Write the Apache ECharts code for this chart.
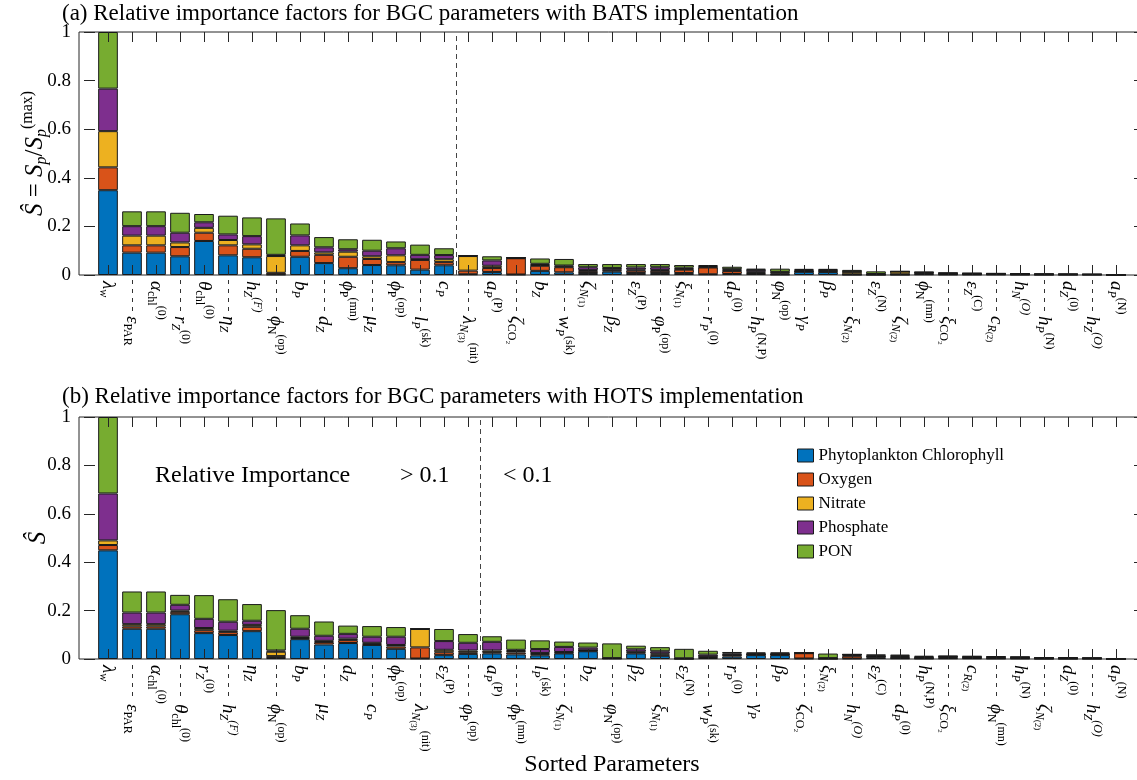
<!DOCTYPE html>
<html><head><meta charset="utf-8">
<script src="https://cdn.jsdelivr.net/npm/echarts@6/dist/echarts.min.js"></script>
<style>html,body{margin:0;padding:0;background:#fff}#c{width:1137px;height:780px}</style>
</head><body><div id="c"></div>
<script>
// ---------- data ----------
const seriesNames = ['Phytoplankton Chlorophyll', 'Oxygen', 'Nitrate', 'Phosphate', 'PON'];
const colors = ['#0072BD', '#D95319', '#EDB120', '#7E2F8E', '#77AC30'];
const yTicks = [0, 0.2, 0.4, 0.6, 0.8, 1];
const threshold = 0.1;

const labelsA = [
'{m|λ}{si|w}','{m|ε}{s|PAR}','{m|α}{s|chl}{p|(0)}','{m|r}{si|Z}{p|(0)}','{m|θ}{s|chl}{p|(0)}',
'{m|η}{si|Z}','{m|h}{si|Z}{pi|(F)}','{m|ϕ}{s|N}{p|(op)}','{m|b}{si|P}','{m|d}{si|Z}',
'{m|ϕ}{s|P}{p|(mn)}','{m|μ}{si|Z}','{m|ϕ}{s|P}{p|(op)}','{m|l}{si|P}{p|(sk)}','{m|c}{si|P}',
'{m|λ}{si|N}{ss|(3)}{p|(nit)}','{m|a}{si|P}{p|(P)}','{m|ζ}{s|CO₂}','{m|b}{si|Z}','{m|w}{si|P}{p|(sk)}',
'{m|ζ}{si|N}{ss|(1)}','{m|β}{si|Z}','{m|ε}{si|Z}{p|(P)}','{m|φ}{s|P}{p|(op)}','{m|ξ}{si|N}{ss|(1)}',
'{m|r}{si|P}{p|(0)}','{m|d}{si|P}{p|(0)}','{m|h}{si|P}{p|(N,P)}','{m|φ}{s|N}{p|(op)}','{m|γ}{si|P}',
'{m|β}{si|P}','{m|ξ}{si|N}{ss|(2)}','{m|ε}{si|Z}{p|(N)}','{m|ζ}{si|N}{ss|(2)}','{m|ϕ}{s|N}{p|(mn)}',
'{m|ξ}{s|CO₂}','{m|ε}{si|Z}{p|(C)}','{m|c}{si|R}{ss|(2)}','{m|h}{si|N}{pi|(O)}','{m|h}{si|P}{p|(N)}',
'{m|d}{si|Z}{p|(0)}','{m|h}{si|Z}{pi|(O)}','{m|a}{si|P}{p|(N)}'
];
const chlA = [.349,.092,.092,.077,.140,.081,.073,.002,.075,.049,.028,.041,.040,.022,.040,.003,.012,.002,.017,.011,.008,.014,.008,.008,.008,.003,.004,.004,.002,.013,.012,.001,.001,.001,.003,.002,.002,.002,.001,.001,.001,.001,.0003];
const oxyA = [.094,.030,.030,.038,.034,.041,.035,.007,.024,.034,.047,.025,.013,.040,.013,.015,.017,.067,.021,.021,.008,.005,.010,.009,.014,.028,.012,.005,.004,.002,.003,.002,.001,.002,.003,.002,.002,.001,.002,.001,.001,.001,.0003];
const nitA = [.149,.040,.040,.019,.020,.022,.018,.069,.023,.010,.021,.011,.028,.003,.012,.060,.009,.001,.003,.003,.004,.003,.004,.004,.003,.002,.003,.004,.005,.002,.003,.010,.001,.011,.003,.002,.001,.001,.001,.001,.001,.0005,.0002];
const phoA = [.175,.039,.039,.040,.023,.023,.034,.005,.041,.021,.010,.023,.029,.018,.017,.001,.022,.001,.005,.004,.012,.007,.009,.011,.005,.004,.005,.008,.002,.004,.003,.001,.001,.0005,.002,.002,.002,.002,.001,.001,.0005,.0005,.0001];
const ponA = [.233,.061,.061,.082,.034,.077,.077,.150,.049,.042,.041,.045,.028,.042,.028,.001,.017,.001,.022,.027,.013,.016,.014,.013,.011,.004,.010,.005,.013,.004,.004,.007,.011,.001,.002,.001,.001,.001,.001,.001,.0005,.0003,.0001];

const labelsB = [
'{m|λ}{si|w}','{m|ε}{s|PAR}','{m|α}{s|chl}{p|(0)}','{m|θ}{s|chl}{p|(0)}','{m|r}{si|Z}{p|(0)}',
'{m|h}{si|Z}{pi|(F)}','{m|η}{si|Z}','{m|ϕ}{s|N}{p|(op)}','{m|b}{si|P}','{m|μ}{si|Z}',
'{m|d}{si|Z}','{m|c}{si|P}','{m|ϕ}{s|P}{p|(op)}','{m|λ}{si|N}{ss|(3)}{p|(nit)}','{m|ε}{si|Z}{p|(P)}',
'{m|φ}{s|P}{p|(op)}','{m|a}{si|P}{p|(P)}','{m|ϕ}{s|P}{p|(mn)}','{m|l}{si|P}{p|(sk)}','{m|ζ}{si|N}{ss|(1)}',
'{m|b}{si|Z}','{m|φ}{s|N}{p|(op)}','{m|β}{si|Z}','{m|ξ}{si|N}{ss|(1)}','{m|ε}{si|Z}{p|(N)}',
'{m|w}{si|P}{p|(sk)}','{m|r}{si|P}{p|(0)}','{m|γ}{si|P}','{m|β}{si|P}','{m|ζ}{s|CO₂}',
'{m|ξ}{si|N}{ss|(2)}','{m|h}{si|N}{pi|(O)}','{m|ε}{si|Z}{p|(C)}','{m|d}{si|P}{p|(0)}','{m|h}{si|P}{p|(N,P)}',
'{m|ξ}{s|CO₂}','{m|c}{si|R}{ss|(2)}','{m|ϕ}{s|N}{p|(mn)}','{m|h}{si|P}{p|(N)}','{m|ζ}{si|N}{ss|(2)}',
'{m|d}{si|Z}{p|(0)}','{m|h}{si|Z}{pi|(O)}','{m|a}{si|P}{p|(N)}'
];
const chlB = [.449,.125,.125,.185,.107,.099,.115,.004,.082,.060,.066,.058,.042,.002,.016,.021,.023,.019,.015,.023,.032,.002,.023,.013,.001,.004,.010,.016,.016,.002,.001,.002,.006,.003,.002,.003,.003,.002,.002,.001,.001,.001,.0003];
const oxyB = [.022,.010,.010,.010,.012,.012,.018,.008,.005,.010,.012,.005,.010,.046,.012,.007,.005,.008,.005,.003,.002,.0005,.004,.006,.0005,.004,.006,.002,.002,.022,.001,.011,.003,.003,.002,.003,.002,.002,.002,.001,.001,.001,.0002];
const nitB = [.019,.009,.009,.005,.009,.006,.008,.018,.005,.005,.006,.004,.006,.076,.010,.007,.007,.006,.005,.003,.002,.0005,.003,.004,.0005,.002,.002,.002,.002,.0005,.001,.004,.002,.003,.002,.003,.002,.002,.002,.002,.001,.001,.0002];
const phoB = [.194,.048,.048,.024,.038,.037,.017,.005,.033,.021,.020,.025,.034,.0005,.036,.032,.036,.005,.016,.021,.011,.0005,.010,.009,.001,.008,.005,.003,.003,.0005,.0005,.001,.004,.004,.003,.002,.003,.003,.002,.001,.002,.001,.0002];
const ponB = [.316,.087,.087,.041,.098,.093,.069,.167,.056,.059,.034,.044,.040,.0005,.050,.036,.023,.042,.036,.022,.021,.061,.015,.017,.039,.016,.006,.004,.004,.001,.019,.002,.003,.005,.004,.002,.002,.002,.001,.001,.001,.001,.0001];

// ---------- layout ----------
const F = 'Liberation Serif, DejaVu Serif, serif';
const BAND = 24;                    // px per category
const OUT_LEFT = 79, IN_LEFT = 96, N = labelsA.length;
const IN_W = BAND * N;
const OUT_W = 1145 - OUT_LEFT;
const vMin = 1 - (IN_LEFT + BAND / 2 - OUT_LEFT) / BAND;
const vMax = vMin + OUT_W / BAND;

const labelRich = {
  m:  {fontFamily: F, fontStyle: 'italic', fontSize: 19, lineHeight: 22, color: '#000'},
  s:  {fontFamily: F, fontSize: 12, lineHeight: 12, verticalAlign: 'bottom', color: '#000'},
  si: {fontFamily: F, fontStyle: 'italic', fontSize: 12, lineHeight: 12, verticalAlign: 'bottom', color: '#000'},
  ss: {fontFamily: F, fontSize: 9, lineHeight: 17, verticalAlign: 'bottom', color: '#000'},
  p:  {fontFamily: F, fontSize: 12, lineHeight: 12, verticalAlign: 'top', color: '#000'},
  pi: {fontFamily: F, fontStyle: 'italic', fontSize: 12, lineHeight: 12, verticalAlign: 'top', color: '#000'}
};

const grids = [], xAxes = [], yAxes = [], series = [];
function panel(labels, vals, top, height, upMargin, dashOff, dashLen, yName, yNameGap) {
  const gOut = grids.length;
  grids.push({left: OUT_LEFT, top: top, width: OUT_W, height: height, show: true,
              borderColor: '#262626', borderWidth: 1, backgroundColor: 'transparent', outerBoundsMode: 'none', containLabel: false});
  grids.push({left: IN_LEFT, top: top, width: IN_W, height: height, outerBoundsMode: 'none', containLabel: false});
  const gIn = gOut + 1;
  const xOut = xAxes.length;
  xAxes.push({type: 'value', gridIndex: gOut, min: vMin, max: vMax, show: false});
  const yOut = yAxes.length;
  yAxes.push({type: 'value', gridIndex: gOut, position: 'left', min: 0, max: 1, interval: 0.2,
    axisLine: {show: false}, splitLine: {show: false},
    axisTick: {show: true, inside: true, length: 11, lineStyle: {color: '#262626'}},
    axisLabel: {margin: 8, fontFamily: F, fontSize: 19, color: '#000', formatter: v => String(+v.toFixed(1))},
    name: yName, nameLocation: 'middle', nameRotate: 90, nameGap: yNameGap, nameMoveOverlap: false,
    nameTextStyle: {fontFamily: F, color: '#000', rich: {
      i: {fontFamily: F, fontStyle: 'italic', fontSize: 25, lineHeight: 30},
      t: {fontFamily: F, fontSize: 25, lineHeight: 30},
      b: {fontFamily: F, fontStyle: 'italic', fontSize: 16, lineHeight: 16, verticalAlign: 'bottom'},
      a: {fontFamily: F, fontSize: 16, lineHeight: 16, verticalAlign: 'top'}
    }}, z: 10});
  yAxes.push({type: 'value', gridIndex: gOut, position: 'right', min: 0, max: 1, interval: 0.2,
    axisLine: {show: false}, splitLine: {show: false}, axisLabel: {show: false},
    axisTick: {show: true, inside: true, length: 11, lineStyle: {color: '#262626'}}, z: 10});
  const xIn = xAxes.length;
  xAxes.push({type: 'category', gridIndex: gIn, position: 'bottom', data: labels,
    axisLine: {show: false}, splitLine: {show: false},
    axisTick: {show: true, inside: true, length: 10, alignWithLabel: true, interval: 0, lineStyle: {color: '#262626'}},
    axisLabel: {interval: (i) => i % 2 === 0, rotate: -90, margin: upMargin, rich: labelRich, formatter: v => v},
    z: 10});
  xAxes.push({type: 'category', gridIndex: gIn, position: 'bottom', data: labels, offset: dashOff,
    axisLine: {show: false}, splitLine: {show: false},
    axisTick: {show: true, inside: false, length: dashLen, alignWithLabel: true, interval: (i) => i % 2 === 1,
      lineStyle: {color: '#333', type: [4, 5], width: 1}},
    axisLabel: {interval: (i) => i % 2 === 1, rotate: -90, margin: dashLen + 3, rich: labelRich, formatter: v => v},
    z: 10});
  xAxes.push({type: 'category', gridIndex: gIn, position: 'top', data: labels,
    axisLine: {show: false}, axisLabel: {show: false},
    axisTick: {show: true, inside: true, length: 10, alignWithLabel: true, interval: 0, lineStyle: {color: '#262626'}},
    z: 10});
  const yIn = yAxes.length;
  yAxes.push({type: 'value', gridIndex: gIn, min: 0, max: 1, show: false});

  // threshold separator: placed after the last bar whose total exceeds the threshold
  const totals = labels.map((_, i) => vals.reduce((s, arr) => s + arr[i], 0));
  const k = totals.filter(t => t > threshold).length;
  series.push({type: 'line', xAxisIndex: xOut, yAxisIndex: yOut, data: [], silent: true,
    markLine: {symbol: ['none', 'none'], silent: true, label: {show: false},
      lineStyle: {color: '#444', type: [5, 4], width: 1}, data: [{xAxis: k + 0.5}]}});
  vals.forEach((arr, j) => {
    series.push({type: 'bar', name: seriesNames[j], xAxisIndex: xIn, yAxisIndex: yIn, stack: 'S' + gOut,
      data: arr, barWidth: '82%', animation: false,
      itemStyle: {color: colors[j], borderColor: '#1a1a1a', borderWidth: 1}});
  });
}

panel(labelsA, [chlA, oxyA, nitA, phoA, ponA], 32, 243, 6, 5, 33,
      '{i|Ŝ}{t| = }{i|S}{b|p}{t|/}{i|S}{b|p}{a|(max)}', 29);
panel(labelsB, [chlB, oxyB, nitB, phoB, ponB], 417, 242, 6, 6, 36,
      '{i|Ŝ}', 26);

const chart = echarts.init(document.getElementById('c'), null, {renderer: 'canvas'});
chart.setOption({
  animation: false,
  backgroundColor: '#fff',
  grid: grids, xAxis: xAxes, yAxis: yAxes, series: series,
  legend: {data: seriesNames, orient: 'vertical', left: 792, top: 442, itemWidth: 16, itemHeight: 13, itemGap: 7,
    icon: 'rect', itemStyle: {borderColor: '#1a1a1a', borderWidth: 1},
    textStyle: {fontFamily: F, fontSize: 17, color: '#000'}},
  graphic: [
    {type: 'text', left: 62, top: 2, style: {text: '(a) Relative importance factors for BGC parameters with BATS implementation', fontFamily: F, fontSize: 23, fill: '#000'}},
    {type: 'text', left: 62, top: 385, style: {text: '(b) Relative importance factors for BGC parameters with HOTS implementation', fontFamily: F, fontSize: 23, fill: '#000'}},
    {type: 'text', left: 155, top: 464, style: {text: 'Relative Importance', fontFamily: F, fontSize: 24, fill: '#000'}},
    {type: 'text', left: 400, top: 464, style: {text: '> 0.1', fontFamily: F, fontSize: 24, fill: '#000'}},
    {type: 'text', left: 503, top: 464, style: {text: '< 0.1', fontFamily: F, fontSize: 24, fill: '#000'}},
    {type: 'text', x: 612, y: 765, style: {text: 'Sorted Parameters', fontFamily: F, fontSize: 24, fill: '#000', align: 'center', verticalAlign: 'middle'}}
  ]
});
</script></body></html>
